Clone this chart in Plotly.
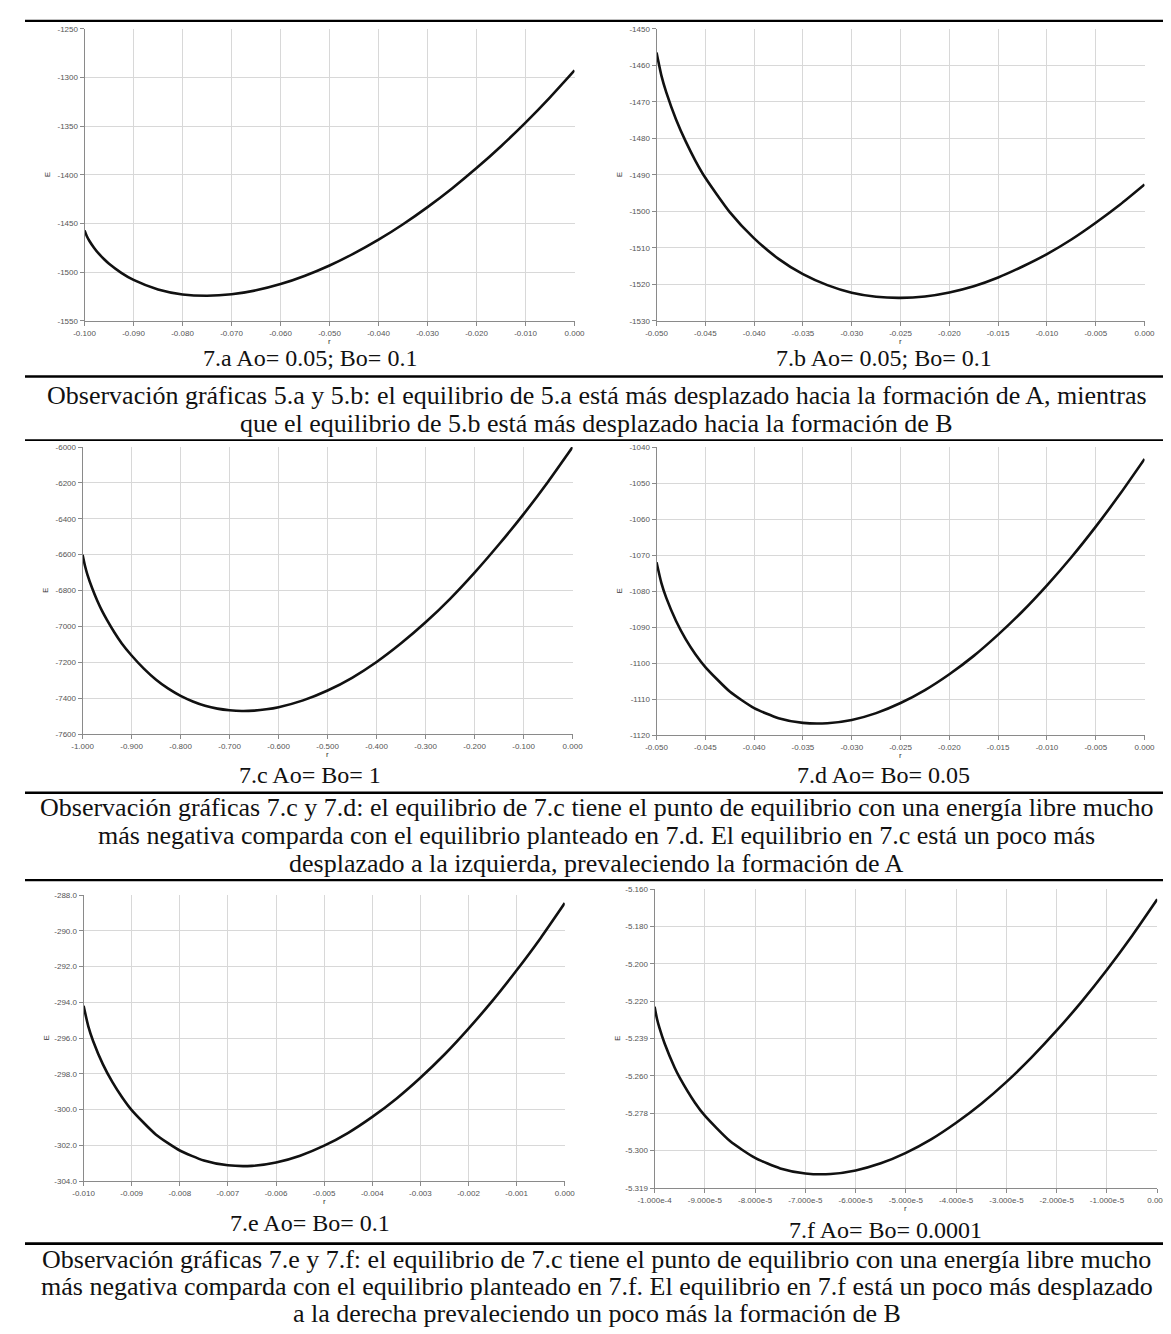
import plotly.graph_objects as go

W, H = 1171, 1334

# ---------------- data ----------------
r_a = [-0.100, -0.0995, -0.099, -0.098, -0.097, -0.096, -0.095, -0.0925, -0.090, -0.085, -0.080, -0.075, -0.070,
       -0.065, -0.060, -0.055, -0.050, -0.045, -0.040, -0.035, -0.030, -0.025, -0.020,
       -0.015, -0.010, -0.005, 0.000]
E_a = [-1457.0, -1463.3, -1467.9, -1475.3, -1481.5, -1486.7, -1491.3, -1500.6, -1507.9, -1517.7, -1522.8, -1524.2, -1522.7,
       -1518.6, -1512.2, -1503.6, -1493.1, -1480.7, -1466.6, -1450.7, -1433.1, -1413.9, -1393.0,
       -1370.5, -1346.3, -1320.3, -1292.6]

r_b = [-0.050, -0.0495, -0.049, -0.048, -0.047, -0.046, -0.045, -0.0425, -0.040, -0.0375, -0.035,
       -0.0325, -0.030, -0.0275, -0.025, -0.0225, -0.020, -0.0175, -0.015, -0.0125,
       -0.010, -0.0075, -0.005, -0.0025, 0.000]
E_b = [-1456.5, -1462.8, -1467.4, -1474.8, -1480.9, -1486.2, -1490.8, -1500.2, -1507.4, -1513.0, -1517.2,
       -1520.2, -1522.3, -1523.4, -1523.7, -1523.3, -1522.2, -1520.5, -1518.1, -1515.1,
       -1511.7, -1507.7, -1503.1, -1498.1, -1492.6]

r_c = [-1.000, -0.995, -0.99, -0.98, -0.97, -0.96, -0.95, -0.935, -0.92, -0.90, -0.875, -0.85, -0.825,
       -0.80, -0.775, -0.75, -0.725, -0.70, -0.675, -0.65, -0.625, -0.60, -0.55, -0.50, -0.45,
       -0.40, -0.35, -0.30, -0.25, -0.20, -0.15, -0.10, -0.05, 0.00]
E_c = [-6600, -6663, -6712, -6790, -6857, -6915, -6965, -7034, -7095, -7162, -7235, -7297, -7347,
       -7387, -7418, -7442, -7458, -7467, -7471, -7469, -7462, -7450, -7412, -7357, -7286,
       -7198, -7094, -6977, -6846, -6700, -6542, -6374, -6193, -6000]

r_d = [-0.050, -0.0495, -0.049, -0.048, -0.047, -0.046, -0.045, -0.0425, -0.040, -0.0375, -0.035,
       -0.0325, -0.030, -0.0275, -0.025, -0.0225, -0.020, -0.0175, -0.015, -0.0125, -0.010,
       -0.0075, -0.005, -0.0025, 0.000]
E_d = [-1072.0, -1077.8, -1081.9, -1088.3, -1093.4, -1097.6, -1101.1, -1107.9, -1112.5, -1115.3, -1116.6,
       -1116.7, -1115.8, -1113.9, -1111.1, -1107.5, -1103.1, -1098.0, -1092.1, -1085.6, -1078.4,
       -1070.6, -1062.1, -1053.0, -1043.3]

r_e = [-0.0100, -0.0099, -0.0098, -0.0096, -0.0094, -0.0092, -0.0090, -0.0085, -0.0080, -0.0075,
       -0.0070, -0.0065, -0.0060, -0.0055, -0.0050, -0.0045, -0.0040, -0.0035, -0.0030,
       -0.0025, -0.0020, -0.0015, -0.0010, -0.0005, 0.0000]
E_e = [-294.20, -295.36, -296.18, -297.46, -298.47, -299.31, -300.03, -301.39, -302.29, -302.85,
       -303.12, -303.15, -302.96, -302.58, -302.02, -301.30, -300.41, -299.39, -298.22,
       -296.92, -295.47, -293.91, -292.21, -290.40, -288.45]

r_f = [-1.000e-4, -0.995e-4, -0.99e-4, -0.98e-4, -0.96e-4, -0.95e-4, -0.92e-4, -0.90e-4, -0.85e-4,
       -0.80e-4, -0.75e-4, -0.70e-4, -0.65e-4, -0.60e-4, -0.55e-4, -0.50e-4, -0.45e-4,
       -0.40e-4, -0.35e-4, -0.30e-4, -0.25e-4, -0.20e-4, -0.15e-4, -0.10e-4, -0.05e-4, 0.0]
E_f = [-5.2230, -5.2297, -5.2346, -5.2427, -5.2556, -5.2609, -5.2742, -5.2813, -5.2949,
       -5.3039, -5.3095, -5.3122, -5.3125, -5.3106, -5.3068, -5.3012, -5.2940,
       -5.2851, -5.2749, -5.2632, -5.2501, -5.2357, -5.2201, -5.2032, -5.1850, -5.1655]

# ---------------- tick values / labels ----------------
xt_a = [-0.100, -0.090, -0.080, -0.070, -0.060, -0.050, -0.040, -0.030, -0.020, -0.010, 0.000]
xl_a = ["-0.100", "-0.090", "-0.080", "-0.070", "-0.060", "-0.050", "-0.040", "-0.030", "-0.020", "-0.010", "0.000"]
yt_a = [-1550, -1500, -1450, -1400, -1350, -1300, -1250]
yl_a = ["-1550", "-1500", "-1450", "-1400", "-1350", "-1300", "-1250"]

xt_b = [-0.050, -0.045, -0.040, -0.035, -0.030, -0.025, -0.020, -0.015, -0.010, -0.005, 0.000]
xl_b = ["-0.050", "-0.045", "-0.040", "-0.035", "-0.030", "-0.025", "-0.020", "-0.015", "-0.010", "-0.005", "0.000"]
yt_b = [-1530, -1520, -1510, -1500, -1490, -1480, -1470, -1460, -1450]
yl_b = ["-1530", "-1520", "-1510", "-1500", "-1490", "-1480", "-1470", "-1460", "-1450"]

xt_c = [-1.0, -0.9, -0.8, -0.7, -0.6, -0.5, -0.4, -0.3, -0.2, -0.1, 0.0]
xl_c = ["-1.000", "-0.900", "-0.800", "-0.700", "-0.600", "-0.500", "-0.400", "-0.300", "-0.200", "-0.100", "0.000"]
yt_c = [-7600, -7400, -7200, -7000, -6800, -6600, -6400, -6200, -6000]
yl_c = ["-7600", "-7400", "-7200", "-7000", "-6800", "-6600", "-6400", "-6200", "-6000"]

xt_d = xt_b
xl_d = xl_b
yt_d = [-1120, -1110, -1100, -1090, -1080, -1070, -1060, -1050, -1040]
yl_d = ["-1120", "-1110", "-1100", "-1090", "-1080", "-1070", "-1060", "-1050", "-1040"]

xt_e = [-0.010, -0.009, -0.008, -0.007, -0.006, -0.005, -0.004, -0.003, -0.002, -0.001, 0.000]
xl_e = ["-0.010", "-0.009", "-0.008", "-0.007", "-0.006", "-0.005", "-0.004", "-0.003", "-0.002", "-0.001", "0.000"]
yt_e = [-304, -302, -300, -298, -296, -294, -292, -290, -288]
yl_e = ["-304.0", "-302.0", "-300.0", "-298.0", "-296.0", "-294.0", "-292.0", "-290.0", "-288.0"]

xt_f = [-1.0e-4, -9.0e-5, -8.0e-5, -7.0e-5, -6.0e-5, -5.0e-5, -4.0e-5, -3.0e-5, -2.0e-5, -1.0e-5, 0.0]
xl_f = ["-1.000e-4", "-9.000e-5", "-8.000e-5", "-7.000e-5", "-6.000e-5", "-5.000e-5",
        "-4.000e-5", "-3.000e-5", "-2.000e-5", "-1.000e-5", "0.000"]
yt_f = [-5.32, -5.30, -5.28, -5.26, -5.24, -5.22, -5.20, -5.18, -5.16]
yl_f = ["-5.319", "-5.300", "-5.278", "-5.260", "-5.239", "-5.220", "-5.200", "-5.180", "-5.160"]

captions = ["7.a Ao= 0.05; Bo= 0.1", "7.b Ao= 0.05; Bo= 0.1", "7.c Ao= Bo= 1",
            "7.d Ao= Bo= 0.05", "7.e Ao= Bo= 0.1", "7.f Ao= Bo= 0.0001"]

obs_1 = ["Observación gráficas 5.a y 5.b: el equilibrio de 5.a está más desplazado hacia la formación de A, mientras",
         "que el equilibrio de 5.b está más desplazado hacia la formación de B"]
obs_2 = ["Observación gráficas 7.c y 7.d: el equilibrio de 7.c tiene el punto de equilibrio con una energía libre mucho",
         "más negativa comparda con el equilibrio planteado en 7.d. El equilibrio en 7.c está un poco más",
         "desplazado a la izquierda, prevaleciendo la formación de A"]
obs_3 = ["Observación gráficas 7.e y 7.f: el equilibrio de 7.c tiene el punto de equilibrio con una energía libre mucho",
         "más negativa comparda con el equilibrio planteado en 7.f. El equilibrio en 7.f está un poco más desplazado",
         "a la derecha prevaleciendo un poco más la formación de B"]

# ---------------- layout geometry (pixels) ----------------
panels = [
    dict(r=r_a, E=E_a, xt=xt_a, xl=xl_a, yt=yt_a, yl=yl_a, xr=[-0.100, 0.0], yr=[-1550, -1250],
         px=(61, 563), py=(17, 311), cap=(292, 348)),
    dict(r=r_b, E=E_b, xt=xt_b, xl=xl_b, yt=yt_b, yl=yl_b, xr=[-0.050, 0.0], yr=[-1530, -1450],
         px=(647, 1147), py=(17, 311), cap=(880, 348)),
    dict(r=r_c, E=E_c, xt=xt_c, xl=xl_c, yt=yt_c, yl=yl_c, xr=[-1.0, 0.0], yr=[-7600, -6000],
         px=(59, 561), py=(438, 727), cap=(292, 768)),
    dict(r=r_d, E=E_d, xt=xt_d, xl=xl_d, yt=yt_d, yl=yl_d, xr=[-0.050, 0.0], yr=[-1120, -1040],
         px=(647, 1147), py=(438, 728), cap=(880, 768)),
    dict(r=r_e, E=E_e, xt=xt_e, xl=xl_e, yt=yt_e, yl=yl_e, xr=[-0.010, 0.0], yr=[-304, -288],
         px=(60, 553), py=(889, 1177), cap=(292, 1219)),
    dict(r=r_f, E=E_f, xt=xt_f, xl=xl_f, yt=yt_f, yl=yl_f, xr=[-1.0e-4, 0.0], yr=[-5.32, -5.16],
         px=(645, 1160), py=(883, 1184), cap=(882, 1226)),
]


def fx(p):
    return p / W


def fy(p):
    return 1 - p / H


TICK_FONT = dict(family="Liberation Sans, Arial, sans-serif", size=8, color="#555555")
SERIF = "Liberation Serif, Times New Roman, serif"

fig = go.Figure()
layout = dict(width=W, height=H, margin=dict(l=0, r=0, t=0, b=0), autosize=False,
              paper_bgcolor="white", plot_bgcolor="white", showlegend=False)
annotations = []
shapes = []

for i, p in enumerate(panels, start=1):
    xa = "x" if i == 1 else f"x{i}"
    ya = "y" if i == 1 else f"y{i}"
    fig.add_trace(go.Scatter(x=p["r"], y=p["E"], mode="lines",
                             line=dict(color="#111111", width=2.6, shape="spline", smoothing=0.6),
                             xaxis=xa, yaxis=ya, hoverinfo="skip", showlegend=False))
    common = dict(showgrid=True, gridcolor="#d8d8d8", gridwidth=1, zeroline=False,
                  showline=True, linecolor="#8a8a8a", linewidth=1, ticks="outside",
                  ticklen=4, tickcolor="#8a8a8a", tickfont=TICK_FONT, fixedrange=True)
    layout["xaxis" if i == 1 else f"xaxis{i}"] = dict(
        domain=[fx(p["px"][0]), fx(p["px"][1])], range=p["xr"], anchor=ya,
        tickmode="array", tickvals=p["xt"], ticktext=p["xl"], **common)
    layout["yaxis" if i == 1 else f"yaxis{i}"] = dict(
        domain=[fy(p["py"][1]), fy(p["py"][0])], range=p["yr"], anchor=xa,
        tickmode="array", tickvals=p["yt"], ticktext=p["yl"], **common)
    annotations.append(dict(x=fx(p["px"][0] - 38), y=fy((p["py"][0] + p["py"][1]) / 2),
                            xref="paper", yref="paper", text="E", showarrow=False, textangle=-90,
                            font=dict(family="Liberation Sans, Arial, sans-serif", size=8, color="#333333"),
                            xanchor="center", yanchor="middle"))
    annotations.append(dict(x=fx((p["px"][0] + p["px"][1]) / 2), y=fy(p["py"][1] + 21),
                            xref="paper", yref="paper", text="r", showarrow=False,
                            font=dict(family="Liberation Sans, Arial, sans-serif", size=8, color="#333333"),
                            xanchor="center", yanchor="middle"))
    annotations.append(dict(x=fx(p["cap"][0]), y=fy(p["cap"][1]), xref="paper", yref="paper",
                            text=captions[i - 1], showarrow=False,
                            font=dict(family=SERIF, size=24, color="#111111"),
                            xanchor="center", yanchor="middle"))

for lines, ys in ((obs_1, (386, 414)), (obs_2, (801, 829, 857)), (obs_3, (1256, 1283, 1310))):
    for t, yy in zip(lines, ys):
        annotations.append(dict(x=0.5, y=fy(yy), xref="paper", yref="paper", text=t, showarrow=False,
                                font=dict(family=SERIF, size=26, color="#111111"),
                                xanchor="center", yanchor="middle"))

for yy, w in ((9, 2.2), (367, 2.6), (431, 1.8), (786, 2.6), (874, 2.2), (1240, 2.6)):
    shapes.append(dict(type="line", xref="paper", yref="paper", x0=0, x1=1,
                       y0=fy(yy), y1=fy(yy), line=dict(color="#000000", width=w)))

layout["annotations"] = annotations
layout["shapes"] = shapes
fig.update_layout(**layout)
fig.write_html("out.html")
